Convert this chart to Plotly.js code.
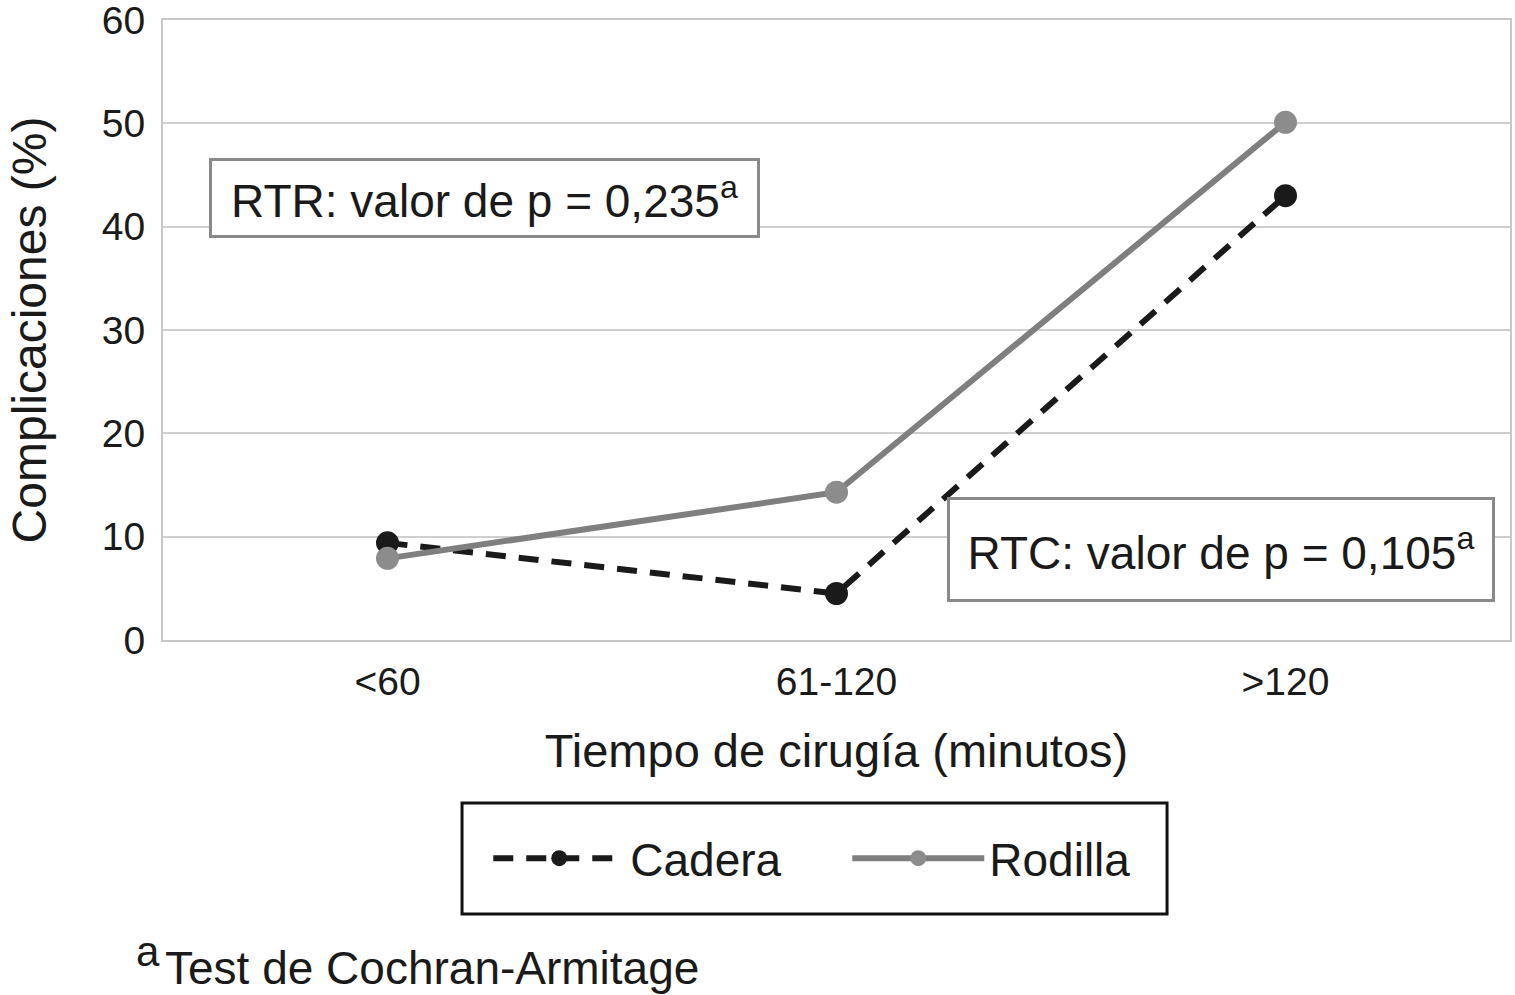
<!DOCTYPE html>
<html>
<head>
<meta charset="utf-8">
<script src="https://cdn.plot.ly/plotly-3.0.1.min.js"></script>
<style>html,body{margin:0;padding:0;background:#fff;}#chart{width:1515px;height:995px;}</style>
</head>
<body>
<div id="chart"></div>
<script>
var categories = ["<60", "61-120", ">120"];
var cadera = [9.4, 4.5, 43.0];
var rodilla = [7.9, 14.3, 50.1];
var yTicks = [0, 10, 20, 30, 40, 50, 60];
var seriesNames = ["Cadera", "Rodilla"];
var annotRTR = "RTR: valor de p = 0,235<sup>a</sup>";
var annotRTC = "RTC: valor de p = 0,105<sup>a</sup>";
var footMark = "a";
var footText = "Test de Cochran-Armitage";

var FONT = "Liberation Sans, Arial, Helvetica, sans-serif";

var traces = [
  {
    x: categories, y: cadera, name: seriesNames[0], type: "scatter", mode: "lines+markers",
    line: {color: "#1a1a1a", width: 6, dash: "20px,13px"},
    marker: {color: "#1a1a1a", size: 23}
  },
  {
    x: categories, y: rodilla, name: seriesNames[1], type: "scatter", mode: "lines+markers",
    line: {color: "#7f7f7f", width: 6},
    marker: {color: "#8c8c8c", size: 23}
  }
];

var layout = {
  width: 1515, height: 995,
  margin: {l: 163, r: 5, t: 20, b: 355},
  paper_bgcolor: "#fff", plot_bgcolor: "#fff",
  font: {family: FONT, color: "#1a1a1a"},
  showlegend: true,
  xaxis: {
    type: "category", range: [-0.5, 2.5],
    showgrid: false, zeroline: false,
    showline: true, mirror: true, linecolor: "#c8c8c8", linewidth: 2,
    ticks: "", tickfont: {size: 39, family: FONT, color: "#1a1a1a"},
    ticklabelstandoff: 6,
    title: {text: "Tiempo de cirugía (minutos)", font: {size: 47, family: FONT, color: "#1a1a1a"}, standoff: 32}
  },
  yaxis: {
    range: [0, 60], tickvals: yTicks, ticktext: yTicks.map(String),
    showgrid: true, gridcolor: "#cfcfcf", gridwidth: 2, zeroline: false,
    showline: true, mirror: true, linecolor: "#c8c8c8", linewidth: 2,
    ticks: "", tickfont: {size: 39, family: FONT, color: "#1a1a1a"},
    ticklabelstandoff: 8, ticklabeloverflow: "allow",
    title: {text: "Complicaciones (%)", font: {size: 48, family: FONT, color: "#1a1a1a"}, standoff: 40}
  },
  legend: {
    orientation: "h", x: 0.508, y: -0.352, xanchor: "center", yanchor: "middle",
    font: {size: 46, family: FONT, color: "#1a1a1a"},
    itemwidth: 132, entrywidth: 212, entrywidthmode: "pixels",
    bgcolor: "rgba(0,0,0,0)", borderwidth: 0, tracegroupgap: 0
  },
  shapes: [
    {type: "rect", xref: "paper", yref: "paper", x0: 0.222, x1: 0.7454, y0: -0.4419, y1: -0.2629,
     line: {color: "#111", width: 3}, fillcolor: "rgba(0,0,0,0)"}
  ],
  annotations: [
    {xref: "paper", yref: "paper", x: 0.239, y: 0.7137, xanchor: "center", yanchor: "middle",
     text: annotRTR, showarrow: false, font: {size: 46, family: FONT, color: "#1a1a1a"},
     bordercolor: "#8a8a8a", borderwidth: 3, borderpad: 0, bgcolor: "#fff", width: 545, height: 74},
    {xref: "paper", yref: "paper", x: 0.7858, y: 0.1452, xanchor: "center", yanchor: "middle",
     text: annotRTC, showarrow: false, font: {size: 46, family: FONT, color: "#1a1a1a"},
     bordercolor: "#8a8a8a", borderwidth: 3, borderpad: 0, bgcolor: "#fff", width: 542, height: 99},
    {xref: "paper", yref: "paper", x: -0.0215, y: -0.503, xanchor: "left", yanchor: "middle",
     text: footMark, showarrow: false, font: {size: 42, family: FONT, color: "#1a1a1a"}},
    {xref: "paper", yref: "paper", x: 0.0, y: -0.529, xanchor: "left", yanchor: "middle",
     text: footText, showarrow: false, font: {size: 46, family: FONT, color: "#1a1a1a"}}
  ]
};

Plotly.newPlot("chart", traces, layout, {displayModeBar: false, staticPlot: true});
</script>
</body>
</html>
